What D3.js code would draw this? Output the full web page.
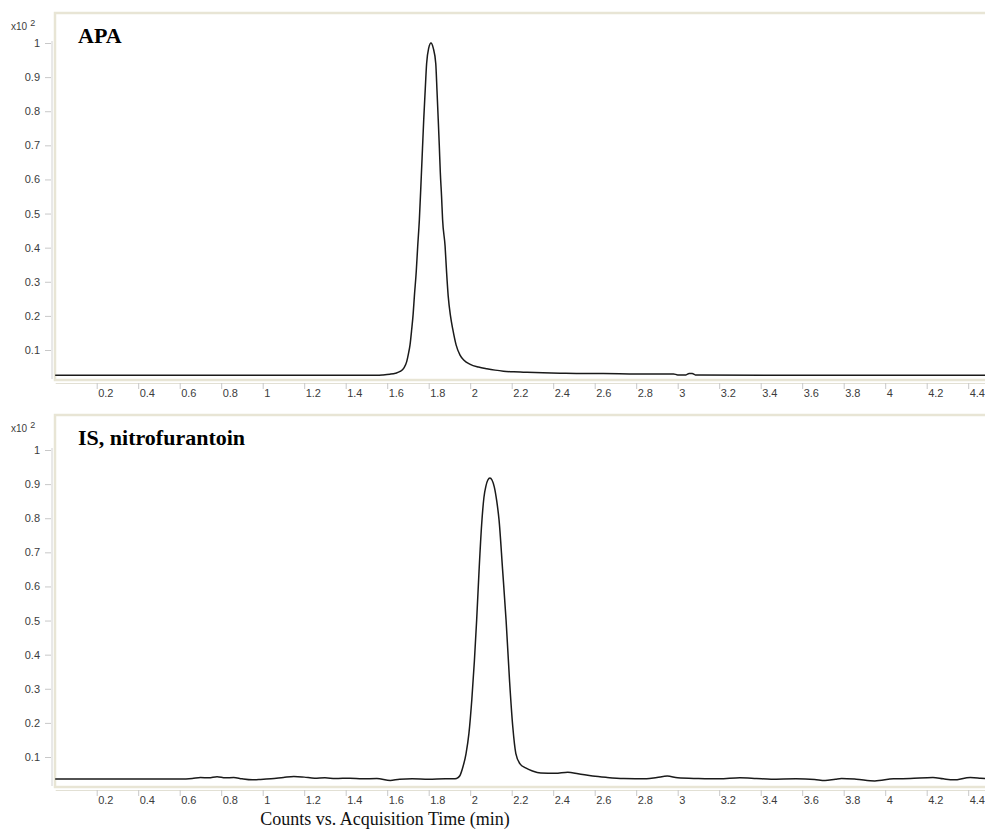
<!DOCTYPE html>
<html>
<head>
<meta charset="utf-8">
<script src="https://cdnjs.cloudflare.com/ajax/libs/d3/7.8.5/d3.min.js"></script>
<style>
body { margin: 0; background: #fff; }
</style>
</head>
<body>
<div class="container"></div>
<script>
const wd = 985
const ht = 831

// APA trace, time (min) and counts (x10^2)
const apaTime = [0, 0.5, 1.0, 1.55, 1.58, 1.613, 1.64, 1.662, 1.68, 1.694, 1.702, 1.71, 1.718, 1.725, 1.731, 1.74, 1.747, 1.755, 1.764, 1.77, 1.776, 1.783, 1.79, 1.8, 1.811, 1.822, 1.834, 1.84, 1.846, 1.851, 1.856, 1.862, 1.867, 1.879, 1.886, 1.894, 1.905, 1.916, 1.932, 1.951, 1.97, 2.0, 2.04, 2.08, 2.12, 2.16, 2.21, 2.256, 2.35, 2.433, 2.55, 2.64, 2.8, 2.98, 3.0, 3.04, 3.055, 3.07, 3.085, 3.5, 4.0, 4.5]
const apaCounts = [0.026, 0.026, 0.026, 0.026, 0.027, 0.029, 0.032, 0.037, 0.047, 0.066, 0.088, 0.115, 0.16, 0.205, 0.258, 0.33, 0.404, 0.482, 0.605, 0.69, 0.775, 0.86, 0.94, 0.985, 1.0, 0.985, 0.94, 0.86, 0.775, 0.7, 0.62, 0.55, 0.482, 0.404, 0.33, 0.258, 0.2, 0.161, 0.115, 0.085, 0.07, 0.058, 0.05, 0.045, 0.041, 0.038, 0.036, 0.035, 0.033, 0.032, 0.031, 0.031, 0.03, 0.03, 0.027, 0.027, 0.031, 0.031, 0.027, 0.026, 0.026, 0.026]

// internal standard trace
const isTime = [0, 0.3, 0.6, 0.66, 0.7, 0.74, 0.78, 0.82, 0.86, 0.9, 0.95, 0.99, 1.04, 1.1, 1.15, 1.2, 1.25, 1.3, 1.35, 1.42, 1.48, 1.55, 1.615, 1.66, 1.72, 1.8, 1.88, 1.92, 1.934, 1.95, 1.962, 1.98, 1.994, 2.008, 2.02, 2.031, 2.043, 2.055, 2.066, 2.076, 2.085, 2.095, 2.105, 2.116, 2.128, 2.139, 2.156, 2.173, 2.19, 2.205, 2.22, 2.24, 2.267, 2.3, 2.34, 2.41, 2.47, 2.52, 2.59, 2.66, 2.74, 2.85, 2.9, 2.95, 3.0, 3.1, 3.2, 3.3, 3.38, 3.45, 3.57, 3.66, 3.71, 3.76, 3.79, 3.86, 3.95, 4.04, 4.12, 4.23, 4.28, 4.33, 4.41, 4.46, 4.5]
const isCounts = [0.0355, 0.0355, 0.0355, 0.037, 0.04, 0.039, 0.042, 0.039, 0.04, 0.036, 0.033, 0.034, 0.036, 0.04, 0.043, 0.041, 0.038, 0.039, 0.037, 0.038, 0.036, 0.037, 0.031, 0.035, 0.036, 0.035, 0.036, 0.036, 0.037, 0.045, 0.065, 0.11, 0.17, 0.27, 0.38, 0.5, 0.65, 0.78, 0.86, 0.895, 0.912, 0.918, 0.912, 0.892, 0.85, 0.795, 0.65, 0.5, 0.32, 0.19, 0.11, 0.08, 0.068, 0.059, 0.053, 0.052, 0.055, 0.051, 0.044, 0.04, 0.037, 0.036, 0.04, 0.044, 0.039, 0.037, 0.036, 0.039, 0.037, 0.035, 0.036, 0.034, 0.031, 0.035, 0.037, 0.035, 0.03, 0.036, 0.037, 0.04, 0.036, 0.033, 0.04, 0.038, 0.036]

const xTicks = [0.2, 0.4, 0.6, 0.8, 1, 1.2, 1.4, 1.6, 1.8, 2, 2.2, 2.4, 2.6, 2.8, 3, 3.2, 3.4, 3.6, 3.8, 4, 4.2, 4.4]
const yTicks = [0.1, 0.2, 0.3, 0.4, 0.5, 0.6, 0.7, 0.8, 0.9, 1]
const titles = ["APA", "IS, nitrofurantoin"]
const xLabel = "Counts vs. Acquisition Time (min)"

const sansF = "'Liberation Sans', Arial, sans-serif"
const serifF = "'Liberation Serif', 'Times New Roman', serif"

const svg = d3.select(".container")
.append("svg")
.attr("width", wd)
.attr("height", ht)
.style("display", "block")

// same time axis for both panels
const x = d3.scaleLinear()
.domain([0, 4.5])
.range([55.2, 55.2 + 4.5 * 207.5])

const lineFunc = d3.line()
.curve(d3.curveMonotoneX)

drawPanel(0, 13, titles[0], apaTime, apaCounts)
drawPanel(407, 415, titles[1], isTime, isCounts)

svg.append("text")
.attr("x", 385)
.attr("y", 825)
.attr("text-anchor", "middle")
.style("font-family", serifF)
.style("font-size", "18px")
.style("fill", "#111")
.text(xLabel)


function drawPanel(off, frameTop, title, times, counts) {

    const y = d3.scaleLinear()
    .domain([0.1, 1])
    .range([off + 350, off + 43])

    const g = svg.append("g")

    // pale frame round the plot area
    g.append("rect")
    .attr("x", 55)
    .attr("y", frameTop)
    .attr("width", 960)
    .attr("height", off + 380 - frameTop)
    .attr("fill", "none")
    .attr("stroke", "#e8e5d5")
    .attr("stroke-width", 2.5)

    // y axis line
    g.append("line")
    .attr("x1", 52).attr("x2", 52)
    .attr("y1", y(1) - 2).attr("y2", off + 379)
    .style("stroke", "#d2d2d2")

    const yAxis = g.append("g")
    .attr("transform", "translate(51,0)")
    .call(d3.axisLeft(y).tickValues(yTicks).tickSize(6).tickPadding(5).tickFormat(d => String(+d.toFixed(1))))

    yAxis.select(".domain").remove()
    yAxis.selectAll("line").style("stroke", "#c8c8c8")
    yAxis.selectAll("text")
    .style("font-family", sansF)
    .style("font-size", "11px")
    .style("fill", "#3c3c3c")

    // x axis strip under the frame
    const xAxis = g.append("g")
    .attr("transform", "translate(0," + (off + 383) + ")")
    .call(d3.axisBottom(x).tickValues(xTicks).tickSize(6).tickPadding(0).tickSizeOuter(0).tickFormat(d => String(+d.toFixed(1))))

    xAxis.select(".domain").style("stroke", "#e2e0d4")
    xAxis.selectAll("line").style("stroke", "#c8c8c8")
    xAxis.selectAll("text")
    .attr("x", 1)
    .attr("text-anchor", "start")
    .style("font-family", sansF)
    .style("font-size", "11px")
    .style("fill", "#3c3c3c")

    // x10^2 unit
    const unit = g.append("text")
    .attr("x", 11)
    .attr("y", frameTop + 17)
    .style("font-family", sansF)
    .style("font-size", "10px")
    .style("fill", "#3c3c3c")
    .text("x10")
    unit.append("tspan")
    .attr("dx", 3)
    .attr("dy", -4)
    .style("font-size", "9px")
    .text("2")

    g.append("text")
    .attr("x", 78)
    .attr("y", frameTop + 30)
    .style("font-family", serifF)
    .style("font-weight", "bold")
    .style("font-size", "22px")
    .style("fill", "#000")
    .text(title)

    const pts = times.map((t, i) => [x(t), y(counts[i])])

    g.append("path")
    .attr("d", lineFunc(pts))
    .attr("fill", "none")
    .style("stroke", "#1a1a1a")
    .style("stroke-width", "1.5px")

}
</script>
</body>
</html>
